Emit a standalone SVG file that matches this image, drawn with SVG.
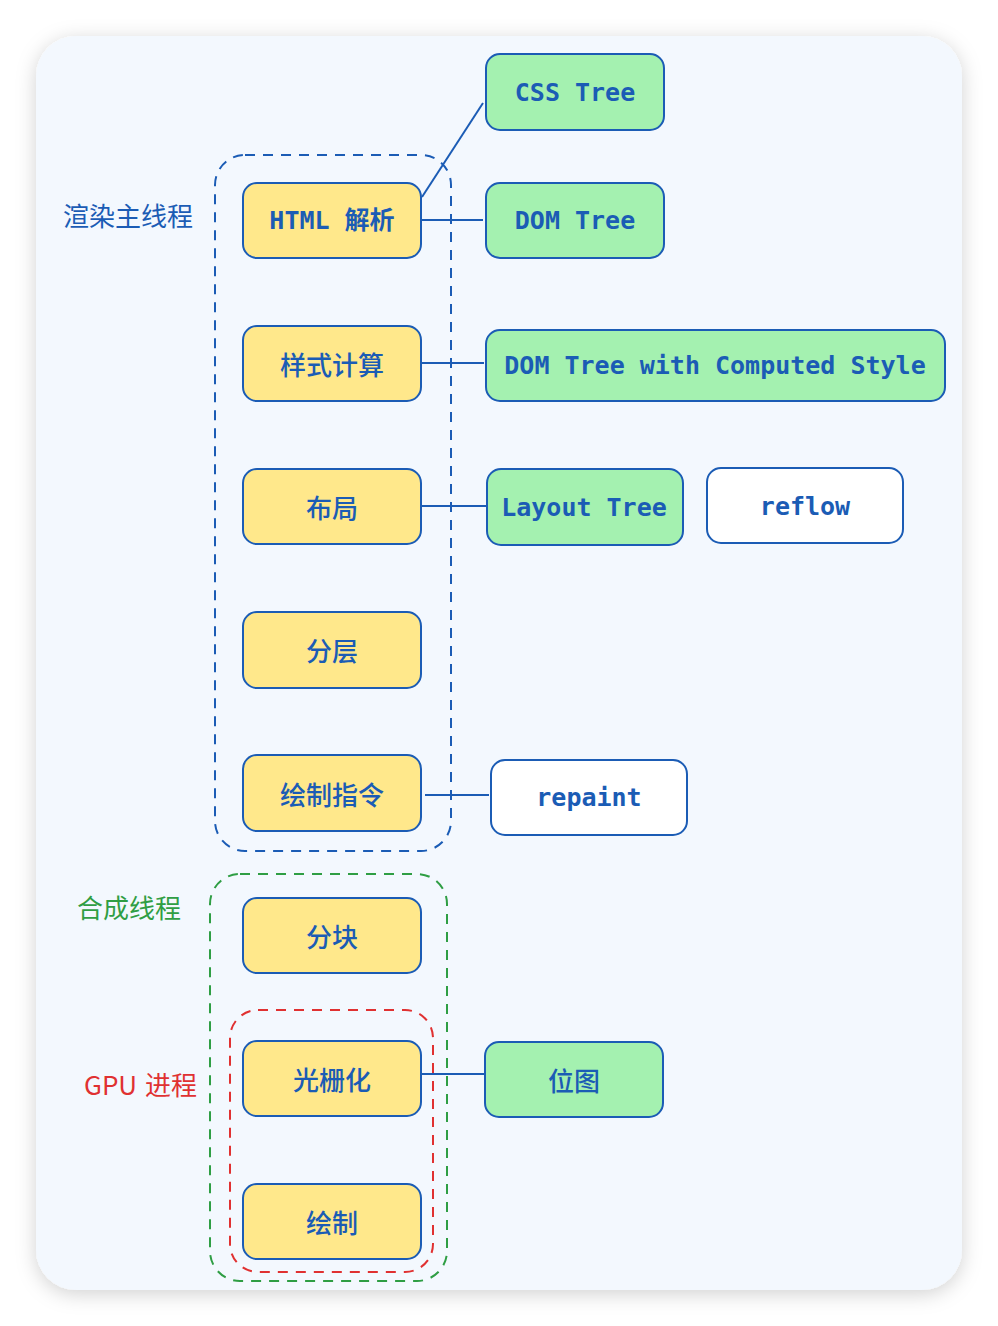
<svg xmlns="http://www.w3.org/2000/svg" width="998" height="1326" viewBox="0 0 998 1326">
<defs>
<filter id="sh" x="-10%" y="-10%" width="120%" height="120%">
<feDropShadow dx="0" dy="4" stdDeviation="10" flood-color="#000" flood-opacity="0.18"/>
</filter>
<style>
.n rect{stroke:#1b5cb5;stroke-width:2}
.y rect{fill:#ffe88b}
.g rect{fill:#a4f1b0}
.w rect{fill:#ffffff}
.t{font-family:"DejaVu Sans Mono","Noto Sans CJK SC",monospace;font-size:25px;font-weight:600;fill:#1b5cb5;text-anchor:middle;dominant-baseline:central}
.c{font-family:"Noto Sans CJK SC","Noto Sans",sans-serif;font-size:26px;font-weight:500;fill:#1b5cb5;text-anchor:middle;dominant-baseline:central}
.lab{font-family:"Noto Sans CJK SC","Noto Sans",sans-serif;font-size:26px;dominant-baseline:central}
.edge line{stroke:#1b5cb5;stroke-width:2}
.grp{fill:none;stroke-width:2;stroke-dasharray:10 8}
</style>
</defs>
<rect width="998" height="1326" fill="#ffffff"/>
<rect x="36" y="36" width="926" height="1254" rx="40" fill="#f3f8fe" filter="url(#sh)"/>

<g id="groups">
<rect class="grp" x="215" y="155" width="236" height="696" rx="30" stroke="#1b5cb5"/>
<rect class="grp" x="210" y="874" width="237" height="407" rx="30" stroke="#2f9e44"/>
<rect class="grp" x="230" y="1010" width="203" height="262" rx="28" stroke="#e03131"/>
</g>

<g id="labels">
<text class="lab" x="63" y="214" fill="#1b5cb5">渲染主线程</text>
<text class="lab" x="77" y="906" fill="#2f9e44">合成线程</text>
<text class="lab" x="84" y="1083" fill="#e03131">GPU</text>
<text class="lab" x="145" y="1083" fill="#e03131">进程</text>
</g>

<g id="connectors" class="edge">
<line x1="422" y1="197" x2="483" y2="103"/>
<line x1="417" y1="220" x2="483" y2="220"/>
<line x1="421" y1="363" x2="484" y2="363"/>
<line x1="421" y1="506" x2="486" y2="506"/>
<line x1="425" y1="795" x2="489" y2="795"/>
<line x1="421" y1="1074" x2="484" y2="1074"/>
</g>

<g id="css-tree" class="n g"><rect x="486" y="54" width="178" height="76" rx="14"/><text class="t" x="575" y="92">CSS Tree</text></g>
<g id="dom-tree" class="n g"><rect x="486" y="183" width="178" height="75" rx="14"/><text class="t" x="575" y="220">DOM Tree</text></g>
<g id="html-parse" class="n y"><rect x="243" y="183" width="178" height="75" rx="14"/><text class="t" x="332" y="220">HTML 解析</text></g>
<g id="style-calc" class="n y"><rect x="243" y="326" width="178" height="75" rx="14"/><text class="c" x="332" y="363">样式计算</text></g>
<g id="dom-computed" class="n g"><rect x="486" y="330" width="459" height="71" rx="14"/><text class="t" x="715" y="365">DOM Tree with Computed Style</text></g>
<g id="layout" class="n y"><rect x="243" y="469" width="178" height="75" rx="14"/><text class="c" x="332" y="506">布局</text></g>
<g id="layout-tree" class="n g"><rect x="487" y="469" width="196" height="76" rx="14"/><text class="t" x="584" y="507">Layout Tree</text></g>
<g id="reflow" class="n w"><rect x="707" y="468" width="196" height="75" rx="14"/><text class="t" x="805" y="506">reflow</text></g>
<g id="layer" class="n y"><rect x="243" y="612" width="178" height="76" rx="14"/><text class="c" x="332" y="649">分层</text></g>
<g id="paint-cmd" class="n y"><rect x="243" y="755" width="178" height="76" rx="14"/><text class="c" x="332" y="793">绘制指令</text></g>
<g id="repaint" class="n w"><rect x="491" y="760" width="196" height="75" rx="14"/><text class="t" x="589" y="797">repaint</text></g>
<g id="tile" class="n y"><rect x="243" y="898" width="178" height="75" rx="14"/><text class="c" x="332" y="935">分块</text></g>
<g id="raster" class="n y"><rect x="243" y="1041" width="178" height="75" rx="14"/><text class="c" x="332" y="1078">光栅化</text></g>
<g id="bitmap" class="n g"><rect x="485" y="1042" width="178" height="75" rx="14"/><text class="c" x="574" y="1079">位图</text></g>
<g id="draw" class="n y"><rect x="243" y="1184" width="178" height="75" rx="14"/><text class="c" x="332" y="1221">绘制</text></g>
</svg>
